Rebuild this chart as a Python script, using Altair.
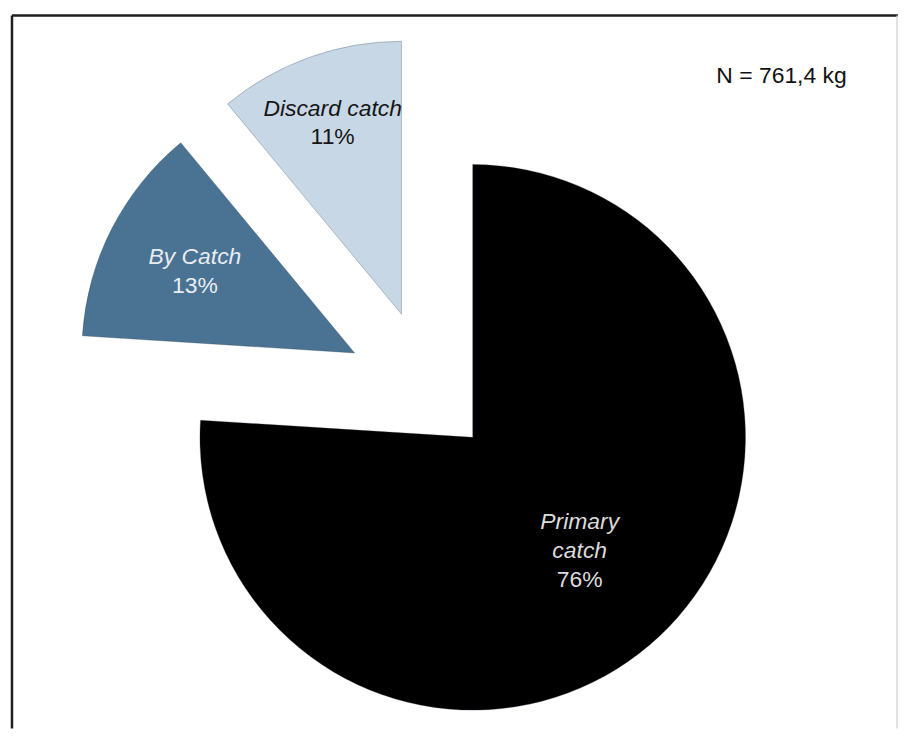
import altair as alt
import pandas as pd

# ---- data ----
categories = ["Primary catch", "By Catch", "Discard catch"]
shares = [76, 13, 11]
name_labels = ["Primary\ncatch", "By Catch", "Discard catch"]
pct_labels = ["76%", "13%", "11%"]
total_note = "N = 761,4 kg"

# ---- styling ----
slice_colors = ["#000000", "#4a7292", "#c8d7e5"]
label_colors = ["#dcdcdc", "#e8edf2", "#151515"]
explode_px = [64, 84, 82]          # how far each slice is pulled out
label_radius_px = [157, 180, 204]  # label distance from slice tip
CX, CY = 419, 377                  # pie centre in plot coordinates
R = 274
LINE = 29
FONT = "Liberation Sans"

W, H = 890, 716

df = pd.DataFrame({
    "cat": categories,
    "value": shares,
    "order": list(range(len(categories))),
    "name": name_labels,
    "nlines": [len(s.split("\n")) for s in name_labels],
    "pct": pct_labels,
    "lcol": label_colors,
    "explode": explode_px,
    "lr": label_radius_px,
})

base = (
    alt.Chart(df)
    .transform_joinaggregate(total="sum(value)")
    .transform_window(cum="sum(value)", sort=[alt.SortField("order")], frame=[None, 0])
    .transform_calculate(
        f0="(datum.cum - datum.value) / datum.total",
        f1="datum.cum / datum.total",
    )
    .transform_calculate(ang="(datum.f0 + datum.f1) * PI")
    .transform_calculate(
        cx=f"{CX} + datum.explode * sin(datum.ang)",
        cy=f"{CY} - datum.explode * cos(datum.ang)",
    )
    .transform_calculate(
        tx="datum.cx + datum.lr * sin(datum.ang)",
        ty="datum.cy - datum.lr * cos(datum.ang)",
    )
    .transform_calculate(
        ny=f"datum.ty - datum.nlines * {LINE} / 2",
        py=f"datum.ty + datum.nlines * {LINE} / 2",
    )
)

theta_scale = alt.Scale(domain=[0, 1], range=[0, 6.283185307179586])

arcs = base.mark_arc(outerRadius=R, stroke="#2a3f52", strokeWidth=0.6, strokeOpacity=0.5).encode(
    theta=alt.Theta("f0:Q", scale=theta_scale),
    theta2="f1:Q",
    x=alt.X("cx:Q", scale=None, axis=None),
    y=alt.Y("cy:Q", scale=None, axis=None),
    color=alt.Color("cat:N", scale=alt.Scale(domain=categories, range=slice_colors), legend=None),
)

names = base.mark_text(
    font=FONT, fontSize=23, fontStyle="italic", lineBreak="\n",
    lineHeight=LINE, baseline="middle", align="center",
).encode(
    x=alt.X("tx:Q", scale=None, axis=None),
    y=alt.Y("ny:Q", scale=None, axis=None),
    text="name:N",
    color=alt.Color("lcol:N", scale=None),
)

pcts = base.mark_text(
    font=FONT, fontSize=23, baseline="middle", align="center",
).encode(
    x=alt.X("tx:Q", scale=None, axis=None),
    y=alt.Y("py:Q", scale=None, axis=None),
    text="pct:N",
    color=alt.Color("lcol:N", scale=None),
)

note = alt.Chart(pd.DataFrame({"t": [total_note]})).mark_text(
    font=FONT, fontSize=23, align="center", baseline="middle", color="#111111"
).encode(x=alt.value(773), y=alt.value(61), text="t:N")

frame_df = pd.DataFrame({"k": [0]})
left_rule = alt.Chart(frame_df).mark_rule(color="#1e1e1e", strokeWidth=2.5).encode(
    x=alt.value(0), y=alt.value(0), y2=alt.value(H)
)
top_rule = alt.Chart(frame_df).mark_rule(color="#1e1e1e", strokeWidth=2.5).encode(
    x=alt.value(0), x2=alt.value(W), y=alt.value(0)
)
right_rule = alt.Chart(frame_df).mark_rule(color="#d8d8d8", strokeWidth=1.5).encode(
    x=alt.value(W - 1), y=alt.value(0), y2=alt.value(H)
)

chart = (
    alt.layer(arcs, names, pcts, note, left_rule, top_rule, right_rule)
    .properties(
        width=W, height=H,
        autosize=alt.AutoSizeParams(type="none"),
        padding={"left": 4, "top": 6, "right": 0, "bottom": 0},
        background="white",
    )
    .configure_view(stroke=None)
)

chart.save("out.html", embed_options={"renderer": "svg", "actions": False})
